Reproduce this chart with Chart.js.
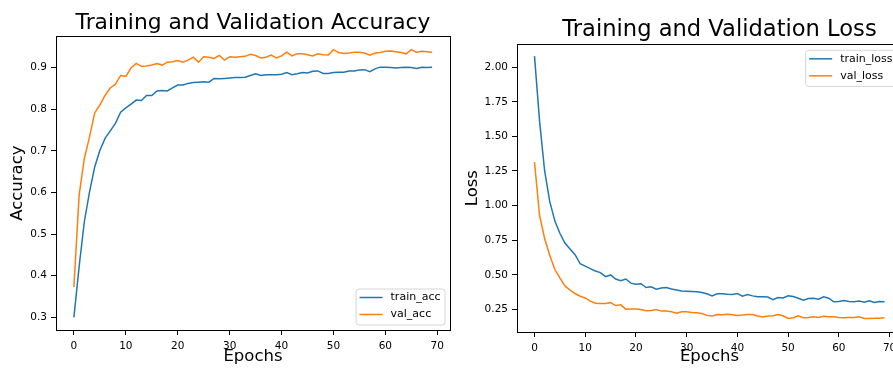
<!DOCTYPE html>
<html>
<head>
<meta charset="utf-8">
<script src="https://cdn.jsdelivr.net/npm/chart.js@4/dist/chart.umd.min.js"></script>
<style>
  html, body { margin: 0; padding: 0; background: #fff; overflow: hidden; }
  #wrap { position: relative; width: 893px; height: 372px; overflow: hidden; }
  canvas { position: absolute; top: 0; }
</style>
</head>
<body>
<div id="wrap">
  <canvas id="acc-chart" width="460" height="372" style="left:0"></canvas>
  <canvas id="loss-chart" width="519" height="372" style="left:460px"></canvas>
</div>
<script>
// Dados
const epochs = [0, 1, 2, 3, 4, 5, 6, 7, 8, 9, 10, 11, 12, 13, 14, 15, 16, 17, 18, 19,
  20, 21, 22, 23, 24, 25, 26, 27, 28, 29, 30, 31, 32, 33, 34, 35, 36, 37, 38, 39,
  40, 41, 42, 43, 44, 45, 46, 47, 48, 49, 50, 51, 52, 53, 54, 55, 56, 57, 58, 59,
  60, 61, 62, 63, 64, 65, 66, 67, 68, 69];

const trainAcc = [0.300, 0.421, 0.529, 0.601, 0.661, 0.701, 0.730, 0.748, 0.766, 0.793,
  0.803, 0.812, 0.822, 0.821, 0.833, 0.833, 0.844, 0.845, 0.844, 0.851,
  0.858, 0.858, 0.862, 0.864, 0.865, 0.866, 0.865, 0.874, 0.873, 0.874,
  0.875, 0.876, 0.876, 0.877, 0.881, 0.885, 0.881, 0.883, 0.883, 0.883,
  0.884, 0.888, 0.883, 0.885, 0.888, 0.887, 0.891, 0.892, 0.886, 0.886,
  0.888, 0.889, 0.889, 0.892, 0.892, 0.894, 0.895, 0.890, 0.897, 0.901,
  0.901, 0.900, 0.899, 0.900, 0.901, 0.900, 0.898, 0.901, 0.900, 0.901];

const valAcc = [0.373, 0.593, 0.681, 0.733, 0.791, 0.810, 0.833, 0.851, 0.860, 0.881,
  0.879, 0.899, 0.910, 0.903, 0.904, 0.906, 0.910, 0.906, 0.913, 0.914,
  0.917, 0.913, 0.918, 0.925, 0.913, 0.926, 0.925, 0.922, 0.929, 0.918,
  0.926, 0.925, 0.926, 0.927, 0.932, 0.929, 0.923, 0.925, 0.930, 0.923,
  0.928, 0.937, 0.928, 0.933, 0.933, 0.931, 0.928, 0.933, 0.931, 0.930,
  0.943, 0.936, 0.934, 0.935, 0.937, 0.937, 0.935, 0.930, 0.935, 0.936,
  0.939, 0.940, 0.938, 0.936, 0.933, 0.943, 0.937, 0.939, 0.938, 0.937];

const trainLoss = [2.08, 1.61, 1.25, 1.03, 0.89, 0.80, 0.73, 0.687, 0.645, 0.580,
  0.563, 0.545, 0.528, 0.516, 0.487, 0.499, 0.470, 0.458, 0.470, 0.440,
  0.432, 0.436, 0.408, 0.413, 0.396, 0.405, 0.408, 0.398, 0.391, 0.384,
  0.382, 0.380, 0.377, 0.372, 0.363, 0.348, 0.363, 0.363, 0.360, 0.358,
  0.365, 0.346, 0.358, 0.348, 0.341, 0.341, 0.340, 0.321, 0.336, 0.333,
  0.348, 0.343, 0.331, 0.316, 0.329, 0.331, 0.324, 0.341, 0.331, 0.305,
  0.307, 0.314, 0.307, 0.305, 0.310, 0.302, 0.312, 0.300, 0.307, 0.305];

const valLoss = [1.315, 0.930, 0.762, 0.642, 0.540, 0.478, 0.420, 0.390, 0.365, 0.345,
  0.333, 0.310, 0.295, 0.293, 0.293, 0.300, 0.278, 0.283, 0.252, 0.254,
  0.253, 0.249, 0.240, 0.243, 0.249, 0.238, 0.238, 0.233, 0.223, 0.233,
  0.233, 0.228, 0.226, 0.221, 0.207, 0.202, 0.214, 0.212, 0.216, 0.212,
  0.207, 0.209, 0.214, 0.214, 0.202, 0.195, 0.203, 0.204, 0.213, 0.204,
  0.185, 0.190, 0.204, 0.190, 0.192, 0.197, 0.192, 0.201, 0.197, 0.197,
  0.192, 0.190, 0.192, 0.192, 0.197, 0.185, 0.185, 0.187, 0.187, 0.190];

// Marcas dos eixos
const epochTicks = [0, 10, 20, 30, 40, 50, 60, 70];
const accTicks = [0.3, 0.4, 0.5, 0.6, 0.7, 0.8, 0.9];
const lossTicks = [0.25, 0.50, 0.75, 1.00, 1.25, 1.50, 1.75, 2.00];

const FONT = 'DejaVu Sans';
const BLUE = '#1f77b4';
const ORANGE = '#ff7f0e';

// Moldura completa do gráfico + legenda no estilo matplotlib
const framePlugin = {
    id: 'frame',
    afterDraw(chart, args, opts) {
        const ctx = chart.ctx;
        const a = chart.chartArea;
        ctx.save();
        ctx.strokeStyle = '#000';
        ctx.lineWidth = 1;
        ctx.strokeRect(Math.round(a.left) + 0.5, Math.round(a.top) + 0.5,
            Math.round(a.right - a.left), Math.round(a.bottom - a.top));

        // legenda
        ctx.font = '11px "' + FONT + '"';
        const sets = chart.data.datasets;
        const textW = Math.max(...sets.map(d => ctx.measureText(d.label).width));
        const boxW = 4 + 23 + 8 + textW + 4;
        const boxH = 36;
        const x = a.right - 5.5 - boxW;
        const y = opts.corner === 'lower right' ? a.bottom - 5.5 - boxH : a.top + 5.5;
        ctx.beginPath();
        if (ctx.roundRect) ctx.roundRect(x + 0.5, y + 0.5, boxW, boxH, 3);
        else ctx.rect(x + 0.5, y + 0.5, boxW, boxH);
        ctx.fillStyle = 'rgba(255,255,255,0.8)';
        ctx.fill();
        ctx.strokeStyle = '#d6d6d6';
        ctx.stroke();
        sets.forEach((d, i) => {
            const ry = y + 9 + i * 17;
            ctx.beginPath();
            ctx.moveTo(x + 4, ry);
            ctx.lineTo(x + 27, ry);
            ctx.strokeStyle = d.borderColor;
            ctx.lineWidth = 1.5;
            ctx.stroke();
            ctx.fillStyle = '#000';
            ctx.textBaseline = 'middle';
            ctx.textAlign = 'left';
            ctx.fillText(d.label, x + 35, ry);
        });
        ctx.restore();
    }
};

function series(label, values, color) {
    return {
        label: label,
        data: values.map((v, i) => ({ x: epochs[i], y: v })),
        borderColor: color,
        backgroundColor: color,
        borderWidth: 1.5,
        pointRadius: 0,
        tension: 0,
        fill: false
    };
}

function makeChart(id, cfg) {
    const ctx = document.getElementById(id).getContext('2d');
    const scales = {
        x: {
            type: 'linear',
            min: -3.45,
            max: 72.45,
            afterBuildTicks: s => { s.ticks = epochTicks.map(v => ({ value: v })); },
            afterFit: s => { s.height = cfg.xHeight; },
            ticks: {
                color: '#000', padding: 5, maxRotation: 0, autoSkip: false,
                font: { family: FONT, size: 10.5 },
                callback: v => String(v)
            },
            grid: { drawOnChartArea: false, color: '#000', tickLength: 5 },
            border: { display: false },
            title: {
                display: true, text: 'Epochs', color: '#000',
                font: { family: FONT, size: 16.5 },
                padding: { top: 0, bottom: 5.6 }
            }
        },
        y: {
            min: cfg.yMin,
            max: cfg.yMax,
            afterBuildTicks: s => { s.ticks = cfg.yTicks.map(v => ({ value: v })); },
            afterFit: s => { s.width = cfg.yWidth; },
            ticks: {
                color: '#000', padding: 4,
                font: { family: FONT, size: 10.5 },
                callback: v => v.toFixed(cfg.decimals)
            },
            grid: { drawOnChartArea: false, color: '#000', tickLength: 5 },
            border: { display: false },
            title: {
                display: true, text: cfg.yLabel, color: '#000',
                font: { family: FONT, size: 16.5 },
                padding: { top: cfg.yTitlePad, bottom: 0 }
            }
        }
    };
    // espaço vazio à direita (a figura original continua além do corte)
    if (cfg.spacer) {
        scales.spacer = {
            type: 'linear', position: 'right',
            ticks: { display: false },
            grid: { display: false },
            border: { display: false },
            afterFit: s => { s.width = cfg.spacer; }
        };
    }
    return new Chart(ctx, {
        type: 'line',
        data: { datasets: cfg.datasets },
        plugins: [framePlugin],
        options: {
            responsive: false,
            animation: false,
            layout: { padding: { left: 0, right: cfg.padRight, top: 0, bottom: 0 } },
            plugins: {
                legend: { display: false },
                tooltip: { enabled: false },
                frame: { corner: cfg.corner },
                title: {
                    display: true,
                    text: cfg.title,
                    fullSize: cfg.titleFull,
                    color: '#000',
                    font: { family: FONT, size: cfg.titleSize, weight: 'normal' },
                    padding: { top: cfg.titleTop, bottom: 0.2 }
                }
            },
            scales: scales
        }
    });
}

makeChart('acc-chart', {
    title: 'Training and Validation Accuracy',
    datasets: [series('train_acc', trainAcc, BLUE), series('val_acc', valAcc, ORANGE)],
    yTicks: accTicks, decimals: 1,
    yMin: 0.2695, yMax: 0.975,
    yLabel: 'Accuracy', yWidth: 56, yTitlePad: 8.3,
    xHeight: 42, titleTop: 10, titleSize: 21.8, titleFull: false, padRight: 10,
    corner: 'lower right'
});

makeChart('loss-chart', {
    title: 'Training and Validation Loss',
    datasets: [series('train_loss', trainLoss, BLUE), series('val_loss', valLoss, ORANGE)],
    yTicks: lossTicks, decimals: 2,
    yMin: 0.087, yMax: 2.165,
    yLabel: 'Loss', yWidth: 57, yTitlePad: 3.3,
    xHeight: 40, titleTop: 17, titleSize: 22.6, titleFull: true, padRight: 0, spacer: 77,
    corner: 'upper right'
});
</script>
</body>
</html>
